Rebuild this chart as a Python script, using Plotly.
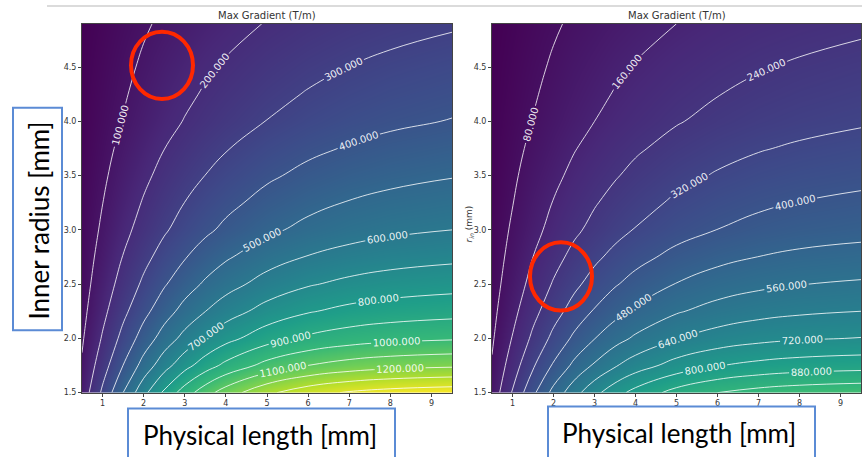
import plotly.graph_objects as go

# ---------------- data ----------------
length_mm = [0.5, 1, 1.5, 2, 2.5, 3, 3.5, 4, 5, 6, 7, 8, 9.5]
inner_radius_mm = [1.5, 1.75, 2.0, 2.25, 2.5, 2.75, 3.0, 3.25, 3.5, 3.75, 4.0, 4.25, 4.5, 4.9]

# left panel: max gradient (T/m), rows = inner radius, cols = physical length
grad_left = [
    [137, 318, 500, 670, 821, 950, 1059, 1149, 1280, 1362, 1411, 1439, 1460],
    [109, 255, 401, 538, 660, 765, 853, 926, 1034, 1101, 1142, 1166, 1183],
    [90, 209, 330, 443, 544, 632, 706, 768, 859, 917, 952, 973, 989],
    [75, 175, 276, 372, 458, 534, 599, 654, 737, 792, 827, 848, 865],
    [64, 149, 235, 317, 391, 457, 514, 563, 639, 691, 724, 746, 764],
    [56, 129, 203, 273, 337, 394, 445, 488, 557, 605, 637, 659, 678],
    [50, 112, 175, 234, 289, 338, 382, 420, 481, 526, 558, 580, 600],
    [44, 99, 154, 207, 256, 301, 340, 375, 432, 474, 505, 526, 547],
    [39, 87, 136, 182, 226, 266, 301, 333, 385, 425, 454, 474, 495],
    [34, 76, 119, 160, 199, 234, 266, 295, 343, 380, 408, 429, 450],
    [30, 66, 103, 139, 173, 204, 232, 258, 302, 336, 363, 383, 404],
    [27, 59, 92, 125, 155, 183, 209, 233, 274, 306, 331, 351, 372],
    [24, 53, 82, 111, 139, 164, 188, 209, 247, 277, 301, 320, 341],
    [19, 43, 67, 91, 113, 134, 154, 172, 204, 231, 253, 270, 290],
]

# right panel
grad_right = [
    [108, 247, 383, 505, 610, 697, 769, 827, 909, 960, 989, 1006, 1019],
    [86, 200, 310, 410, 498, 571, 632, 681, 752, 796, 822, 838, 849],
    [71, 164, 256, 341, 415, 478, 530, 573, 636, 675, 698, 712, 723],
    [60, 138, 216, 288, 352, 407, 454, 493, 552, 590, 614, 628, 640],
    [51, 118, 184, 247, 302, 351, 393, 428, 483, 519, 543, 558, 570],
    [45, 102, 160, 213, 262, 304, 342, 374, 424, 458, 481, 497, 510],
    [40, 89, 138, 183, 225, 262, 295, 324, 369, 401, 425, 441, 455],
    [35, 78, 122, 163, 200, 234, 264, 290, 333, 364, 386, 402, 417],
    [31, 69, 108, 143, 177, 208, 234, 259, 298, 327, 349, 364, 379],
    [27, 61, 94, 126, 156, 183, 208, 230, 266, 294, 315, 330, 346],
    [24, 53, 82, 110, 136, 160, 182, 202, 235, 261, 281, 296, 312],
    [21, 47, 73, 99, 122, 144, 164, 183, 214, 238, 257, 272, 288],
    [19, 42, 65, 88, 110, 129, 148, 164, 193, 216, 235, 249, 265],
    [15, 34, 53, 72, 90, 106, 122, 136, 160, 181, 198, 211, 226],
]

levels_left = [100, 1400, 100]   # start, end, step
levels_right = [80, 960, 80]

x_ticks = [1, 2, 3, 4, 5, 6, 7, 8, 9]
y_ticks = [1.5, 2.0, 2.5, 3.0, 3.5, 4.0, 4.5]
y_tick_text = ["1.5", "2.0", "2.5", "3.0", "3.5", "4.0", "4.5"]

panel_title = "Max Gradient (T/m)"
right_ylabel = "<i>r</i><sub><i>in</i></sub> (mm)"
box_label_y = "Inner radius [mm]"
box_label_x = "Physical length [mm]"

# ---------------- figure ----------------
W, H = 862, 457


def fx(p):
    return p / W


def fy(p):
    return 1 - p / H


zmin = min(min(r) for r in grad_left)
zmax = max(max(r) for r in grad_left)

fig = go.Figure()

for z, lv, xa, ya in [(grad_left, levels_left, "x", "y"), (grad_right, levels_right, "x2", "y2")]:
    fig.add_trace(go.Heatmap(
        x=length_mm, y=inner_radius_mm, z=z,
        colorscale="Viridis", zmin=zmin, zmax=zmax, zsmooth="best",
        showscale=False, hoverinfo="skip", xaxis=xa, yaxis=ya))
    fig.add_trace(go.Contour(
        x=length_mm, y=inner_radius_mm, z=z,
        contours=dict(start=lv[0], end=lv[1], size=lv[2], coloring="none",
                      showlabels=True, labelformat=".3f",
                      labelfont=dict(size=10, color="rgba(255,255,255,0.92)", family="DejaVu Sans")),
        line=dict(color="rgba(255,255,255,0.8)", width=1, smoothing=1.3),
        showscale=False, hoverinfo="skip", xaxis=xa, yaxis=ya))

axis_common = dict(showline=True, linecolor="#444", linewidth=1, mirror=True,
                   ticks="outside", ticklen=3, tickwidth=1, tickcolor="#444",
                   tickfont=dict(size=8, color="#333", family="DejaVu Sans"),
                   showgrid=False, zeroline=False)

fig.update_layout(
    width=W, height=H, margin=dict(l=0, r=0, t=0, b=0),
    paper_bgcolor="white", plot_bgcolor="white", showlegend=False,
    xaxis=dict(domain=[fx(82), fx(452)], range=[0.5, 9.5], tickvals=x_ticks, anchor="y", **axis_common),
    yaxis=dict(domain=[fy(397), fy(24)], range=[1.5, 4.9], tickvals=y_ticks, ticktext=y_tick_text,
               anchor="x", **axis_common),
    xaxis2=dict(domain=[fx(492), fx(861)], range=[0.5, 9.5], tickvals=x_ticks, anchor="y2", **axis_common),
    yaxis2=dict(domain=[fy(397), fy(24)], range=[1.5, 4.9], tickvals=y_ticks, ticktext=y_tick_text,
                anchor="x2", **axis_common),
)

annotations = [
    dict(text=panel_title, x=fx(267), y=fy(16), font=dict(size=10, color="#333", family="DejaVu Sans")),
    dict(text=panel_title, x=fx(677), y=fy(16), font=dict(size=10, color="#333", family="DejaVu Sans")),
    dict(text=right_ylabel, x=fx(470), y=fy(226), textangle=-90,
         font=dict(size=9, color="#333", family="DejaVu Sans")),
    dict(text=box_label_y, x=fx(39), y=fy(223), textangle=-90,
         font=dict(size=26, color="black", family="Lato")),
    dict(text=box_label_x, x=fx(260), y=fy(440), font=dict(size=26, color="black", family="Lato")),
    dict(text=box_label_x, x=fx(679), y=fy(438), font=dict(size=26, color="black", family="Lato")),
]
for a in annotations:
    a.update(xref="paper", yref="paper", showarrow=False, xanchor="center", yanchor="middle")
fig.update_layout(annotations=annotations)

blue = "#5b8bd5"
red = "#ff2800"
shapes = [
    dict(type="line", x0=fx(47), x1=fx(862), y0=fy(6), y1=fy(6), line=dict(color="#cfcfcf", width=1.5)),
    dict(type="rect", x0=fx(13), x1=fx(62), y0=fy(109), y1=fy(334), line=dict(color=blue, width=2)),
    dict(type="rect", x0=fx(128), x1=fx(395), y0=fy(413), y1=fy(470), line=dict(color=blue, width=2)),
    dict(type="rect", x0=fx(548), x1=fx(815), y0=fy(411), y1=fy(470), line=dict(color=blue, width=2)),
    dict(type="circle", x0=fx(131), x1=fx(193), y0=fy(32), y1=fy(100), line=dict(color=red, width=4)),
    dict(type="circle", x0=fx(530), x1=fx(592), y0=fy(245), y1=fy(314), line=dict(color=red, width=4)),
]
for s in shapes:
    s.update(xref="paper", yref="paper", layer="above")
fig.update_layout(shapes=shapes)

fig.write_html("out.html", config={"displayModeBar": False})
